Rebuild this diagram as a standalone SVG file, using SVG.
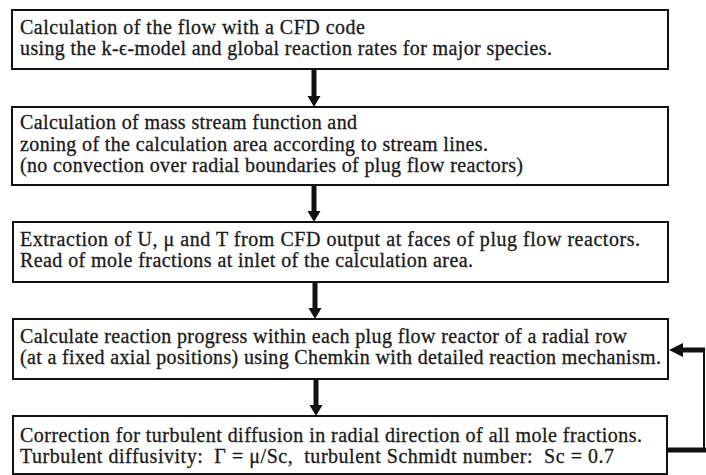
<svg xmlns="http://www.w3.org/2000/svg" width="706" height="475" viewBox="0 0 706 475">
  <defs>
    <style>
      .box { fill: #ffffff; stroke: #111111; stroke-width: 2; }
      .txt { font-family: 'Liberation Serif', 'Times New Roman', serif; font-size: 20px; fill: #1a1a1a; stroke: #1a1a1a; stroke-width: 0.3; }
      .shaft { stroke: #111111; stroke-width: 5; fill: none; }
      .thin { stroke: #111111; stroke-width: 2; fill: none; }
      .head { fill: #111111; }
    </style>
  </defs>
  <rect width="706" height="475" fill="#ffffff"/>

  <g id="step1">
    <rect class="box" x="12" y="10" width="656" height="59"/>
    <text class="txt" x="20" y="34" textLength="345">Calculation of the flow with a CFD code</text>
    <text class="txt" x="20" y="55" textLength="532">using the k-ϵ-model and global reaction rates for major species.</text>
  </g>

  <g id="step2">
    <rect class="box" x="12" y="107" width="656" height="78"/>
    <text class="txt" x="20" y="129" textLength="337">Calculation of mass stream function and</text>
    <text class="txt" x="20" y="151" textLength="468">zoning of the calculation area according to stream lines.</text>
    <text class="txt" x="20" y="172" textLength="503">(no convection over radial boundaries of plug flow reactors)</text>
  </g>

  <g id="step3">
    <rect class="box" x="13" y="222" width="655" height="60"/>
    <text class="txt" x="20" y="246" textLength="620">Extraction of U, μ and T from CFD output at faces of plug flow reactors.</text>
    <text class="txt" x="20" y="267" textLength="453">Read of mole fractions at inlet of the calculation area.</text>
  </g>

  <g id="step4">
    <rect class="box" x="13" y="319" width="655" height="60"/>
    <text class="txt" x="20" y="343" textLength="607">Calculate reaction progress within each plug flow reactor of a radial row</text>
    <text class="txt" x="20" y="364" textLength="641">(at a fixed axial positions) using Chemkin with detailed reaction mechanism.</text>
  </g>

  <g id="step5">
    <rect class="box" x="13" y="416" width="654" height="58"/>
    <text class="txt" x="20" y="442" textLength="622">Correction for turbulent diffusion in radial direction of all mole fractions.</text>
    <text class="txt" x="20" y="463" textLength="594" xml:space="preserve">Turbulent diffusivity:  Γ = μ/Sc,  turbulent Schmidt number:  Sc = 0.7</text>
  </g>

  <g id="connectors">
    <!-- downward flow arrows between steps -->
    <line class="shaft" x1="314" y1="69" x2="314" y2="97"/>
    <polygon class="head" points="307.5,96 320.5,96 314,107"/>
    <line class="shaft" x1="314" y1="185" x2="314" y2="212"/>
    <polygon class="head" points="307.5,211 320.5,211 314,222"/>
    <line class="shaft" x1="315" y1="282" x2="315" y2="309"/>
    <polygon class="head" points="308.5,308 321.5,308 315,319"/>
    <line class="shaft" x1="316" y1="379" x2="316" y2="406"/>
    <polygon class="head" points="309.5,405 322.5,405 316,416"/>
    <!-- feedback loop from diffusion correction back to reaction step -->
    <line class="shaft" x1="667" y1="450" x2="706" y2="450"/>
    <line class="thin" x1="704" y1="451" x2="704" y2="349"/>
    <line class="shaft" x1="705" y1="350" x2="681" y2="350"/>
    <polygon class="head" points="683,343 683,357 669,350"/>
  </g>
</svg>
